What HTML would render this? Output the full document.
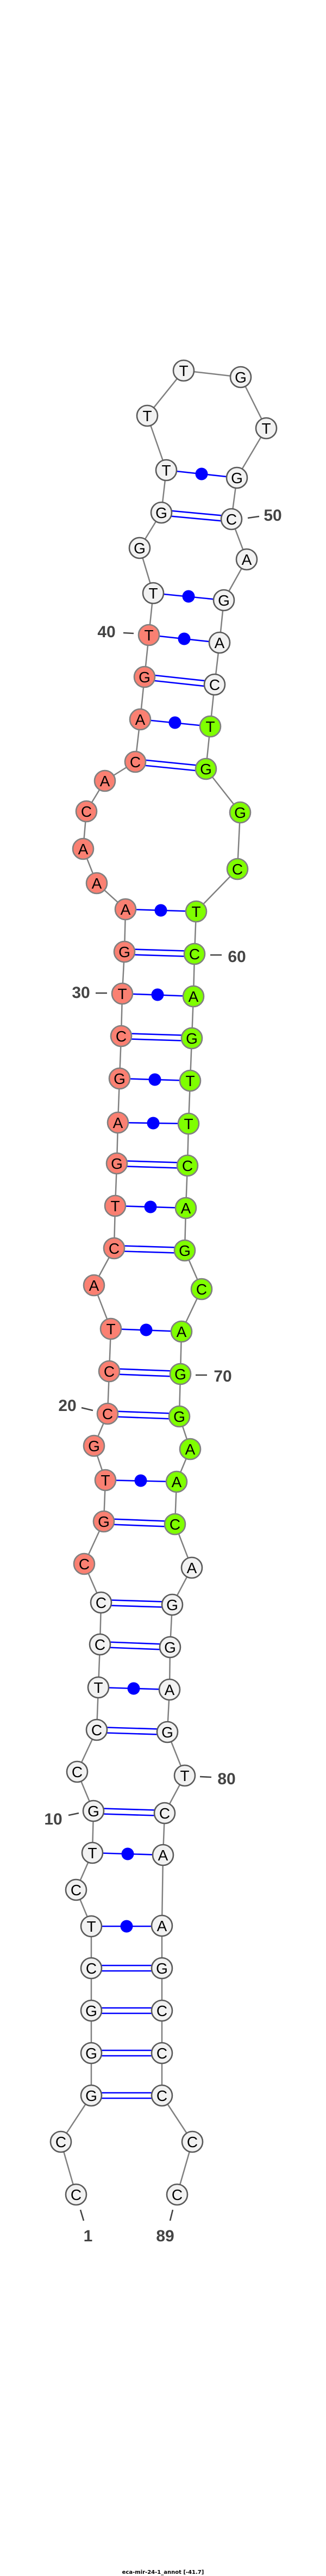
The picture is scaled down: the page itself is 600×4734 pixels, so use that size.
<!DOCTYPE html>
<html><head><meta charset="utf-8"><style>
html,body{margin:0;padding:0;background:#fff;}
svg{display:block;}
.n text{font-family:"Liberation Sans","DejaVu Sans",sans-serif;font-size:28px;text-anchor:middle;fill:#000;}
.w{fill:#f2f2f2;stroke:#5a5a5a;stroke-width:2.6;}
.r{fill:#fa8072;stroke:#808080;stroke-width:2.6;}
.g{fill:#7fff00;stroke:#808080;stroke-width:2.6;}
.bp{stroke:#0000ff;stroke-width:2.6;fill:none;}
.lab{font-family:"Liberation Sans","DejaVu Sans",sans-serif;font-size:30px;font-weight:bold;fill:#444;text-anchor:middle;}
.tk{stroke:#444;stroke-width:2.6;}
</style></head><body>
<svg width="600" height="4734" viewBox="0 0 600 4734" xmlns="http://www.w3.org/2000/svg">
<polyline fill="none" stroke="#808080" stroke-width="2.5" points="140,4033 112,3936 168,3851 168,3773 168,3695 168,3617 168,3540 140,3473 170,3405 172,3328 142,3256 178,3179 181,3101 184,3022 186,2945 155,2874 191,2796 194,2720 173,2657 198,2598 201,2520 204,2442 173,2362 210,2294 212,2216 215,2138 217,2063 220,1982 223,1904 225,1826 229,1749 231,1671 178,1623 153,1560 159,1491 193,1435 249,1400 258,1322 266,1244 274,1167 282,1090 257,1007 297,942 306,864 271,764 338,681 443,693 490,787 436,878 426,954 454,1028 412,1103 404,1181 395,1258 387,1335 379,1413 442,1493 437,1597 361,1675 358,1753 356,1831 353,1908 350,1986 347,2065 345,2142 342,2220 340,2298 371,2369 334,2447 332,2525 330,2603 350,2663 325,2723 322,2801 353,2881 317,2949 313,3027 312,3105 308,3183 340,3263 303,3332 300,3409 298,3539 298,3617 298,3695 298,3773 298,3851 354,3936 326,4033"/>
<g class="bp">
<!-- double pairs -->
<line x1="168" y1="3612" x2="298" y2="3612"/><line x1="168" y1="3622" x2="298" y2="3622"/>
<line x1="168" y1="3690" x2="298" y2="3690"/><line x1="168" y1="3700" x2="298" y2="3700"/>
<line x1="168" y1="3768" x2="298" y2="3768"/><line x1="168" y1="3778" x2="298" y2="3778"/>
<line x1="168" y1="3846" x2="298" y2="3846"/><line x1="168" y1="3856" x2="298" y2="3856"/>
<line x1="172" y1="3323" x2="303" y2="3327"/><line x1="172" y1="3333" x2="303" y2="3337"/>
<line x1="178" y1="3174" x2="308" y2="3178"/><line x1="178" y1="3184" x2="308" y2="3188"/>
<line x1="184" y1="3017" x2="313" y2="3022"/><line x1="184" y1="3027" x2="313" y2="3032"/>
<line x1="186" y1="2940" x2="317" y2="2944"/><line x1="186" y1="2950" x2="317" y2="2954"/>
<line x1="191" y1="2791" x2="322" y2="2796"/><line x1="191" y1="2801" x2="322" y2="2806"/>
<line x1="198" y1="2593" x2="330" y2="2598"/><line x1="198" y1="2603" x2="330" y2="2608"/>
<line x1="201" y1="2515" x2="332" y2="2520"/><line x1="201" y1="2525" x2="332" y2="2530"/>
<line x1="210" y1="2289" x2="340" y2="2293"/><line x1="210" y1="2299" x2="340" y2="2303"/>
<line x1="215" y1="2133" x2="345" y2="2137"/><line x1="215" y1="2143" x2="345" y2="2147"/>
<line x1="223" y1="1899" x2="353" y2="1903"/><line x1="223" y1="1909" x2="353" y2="1913"/>
<line x1="229" y1="1744" x2="358" y2="1748"/><line x1="229" y1="1754" x2="358" y2="1758"/>
<line x1="249" y1="1395" x2="379" y2="1408"/><line x1="249" y1="1405" x2="379" y2="1418"/>
<line x1="266" y1="1239" x2="395" y2="1253"/><line x1="266" y1="1249" x2="395" y2="1263"/>
<line x1="297" y1="937" x2="426" y2="949"/><line x1="297" y1="947" x2="426" y2="959"/>
<!-- single pairs -->
<line x1="168" y1="3540" x2="298" y2="3540"/>
<line x1="170" y1="3405" x2="300" y2="3409"/>
<line x1="181" y1="3101" x2="312" y2="3105"/>
<line x1="194" y1="2720" x2="325" y2="2723"/>
<line x1="204" y1="2442" x2="334" y2="2447"/>
<line x1="212" y1="2216" x2="342" y2="2220"/>
<line x1="217" y1="2063" x2="347" y2="2065"/>
<line x1="220" y1="1982" x2="350" y2="1986"/>
<line x1="225" y1="1826" x2="356" y2="1831"/>
<line x1="231" y1="1671" x2="361" y2="1675"/>
<line x1="258" y1="1322" x2="387" y2="1335"/>
<line x1="274" y1="1167" x2="404" y2="1181"/>
<line x1="282" y1="1090" x2="412" y2="1103"/>
<line x1="306" y1="864" x2="436" y2="878"/>
</g>
<g fill="#0000ff">
<circle cx="233" cy="3540" r="11.5"/>
<circle cx="235" cy="3407" r="11.5"/>
<circle cx="246" cy="3103" r="11.5"/>
<circle cx="259" cy="2721" r="11.5"/>
<circle cx="269" cy="2444" r="11.5"/>
<circle cx="277" cy="2218" r="11.5"/>
<circle cx="282" cy="2064" r="11.5"/>
<circle cx="285" cy="1984" r="11.5"/>
<circle cx="290" cy="1828" r="11.5"/>
<circle cx="296" cy="1673" r="11.5"/>
<circle cx="322" cy="1328" r="11.5"/>
<circle cx="339" cy="1174" r="11.5"/>
<circle cx="347" cy="1096" r="11.5"/>
<circle cx="371" cy="871" r="11.5"/>
</g>
<g class="n">
<circle class="w" cx="140" cy="4033" r="19"/><text x="140" y="4043">C</text>
<circle class="w" cx="112" cy="3936" r="19"/><text x="112" y="3946">C</text>
<circle class="w" cx="168" cy="3851" r="19"/><text x="168" y="3861">G</text>
<circle class="w" cx="168" cy="3773" r="19"/><text x="168" y="3783">G</text>
<circle class="w" cx="168" cy="3695" r="19"/><text x="168" y="3705">G</text>
<circle class="w" cx="168" cy="3617" r="19"/><text x="168" y="3627">C</text>
<circle class="w" cx="168" cy="3540" r="19"/><text x="168" y="3550">T</text>
<circle class="w" cx="140" cy="3473" r="19"/><text x="140" y="3483">C</text>
<circle class="w" cx="170" cy="3405" r="19"/><text x="170" y="3415">T</text>
<circle class="w" cx="172" cy="3328" r="19"/><text x="172" y="3338">G</text>
<circle class="w" cx="142" cy="3256" r="19"/><text x="142" y="3266">C</text>
<circle class="w" cx="178" cy="3179" r="19"/><text x="178" y="3189">C</text>
<circle class="w" cx="181" cy="3101" r="19"/><text x="181" y="3111">T</text>
<circle class="w" cx="184" cy="3022" r="19"/><text x="184" y="3032">C</text>
<circle class="w" cx="186" cy="2945" r="19"/><text x="186" y="2955">C</text>
<circle class="r" cx="155" cy="2874" r="19"/><text x="155" y="2884">C</text>
<circle class="r" cx="191" cy="2796" r="19"/><text x="191" y="2806">G</text>
<circle class="r" cx="194" cy="2720" r="19"/><text x="194" y="2730">T</text>
<circle class="r" cx="173" cy="2657" r="19"/><text x="173" y="2667">G</text>
<circle class="r" cx="198" cy="2598" r="19"/><text x="198" y="2608">C</text>
<circle class="r" cx="201" cy="2520" r="19"/><text x="201" y="2530">C</text>
<circle class="r" cx="204" cy="2442" r="19"/><text x="204" y="2452">T</text>
<circle class="r" cx="173" cy="2362" r="19"/><text x="173" y="2372">A</text>
<circle class="r" cx="210" cy="2294" r="19"/><text x="210" y="2304">C</text>
<circle class="r" cx="212" cy="2216" r="19"/><text x="212" y="2226">T</text>
<circle class="r" cx="215" cy="2138" r="19"/><text x="215" y="2148">G</text>
<circle class="r" cx="217" cy="2063" r="19"/><text x="217" y="2073">A</text>
<circle class="r" cx="220" cy="1982" r="19"/><text x="220" y="1992">G</text>
<circle class="r" cx="223" cy="1904" r="19"/><text x="223" y="1914">C</text>
<circle class="r" cx="225" cy="1826" r="19"/><text x="225" y="1836">T</text>
<circle class="r" cx="229" cy="1749" r="19"/><text x="229" y="1759">G</text>
<circle class="r" cx="231" cy="1671" r="19"/><text x="231" y="1681">A</text>
<circle class="r" cx="178" cy="1623" r="19"/><text x="178" y="1633">A</text>
<circle class="r" cx="153" cy="1560" r="19"/><text x="153" y="1570">A</text>
<circle class="r" cx="159" cy="1491" r="19"/><text x="159" y="1501">C</text>
<circle class="r" cx="193" cy="1435" r="19"/><text x="193" y="1445">A</text>
<circle class="r" cx="249" cy="1400" r="19"/><text x="249" y="1410">C</text>
<circle class="r" cx="258" cy="1322" r="19"/><text x="258" y="1332">A</text>
<circle class="r" cx="266" cy="1244" r="19"/><text x="266" y="1254">G</text>
<circle class="r" cx="274" cy="1167" r="19"/><text x="274" y="1177">T</text>
<circle class="w" cx="282" cy="1090" r="19"/><text x="282" y="1100">T</text>
<circle class="w" cx="257" cy="1007" r="19"/><text x="257" y="1017">G</text>
<circle class="w" cx="297" cy="942" r="19"/><text x="297" y="952">G</text>
<circle class="w" cx="306" cy="864" r="19"/><text x="306" y="874">T</text>
<circle class="w" cx="271" cy="764" r="19"/><text x="271" y="774">T</text>
<circle class="w" cx="338" cy="681" r="19"/><text x="338" y="691">T</text>
<circle class="w" cx="443" cy="693" r="19"/><text x="443" y="703">G</text>
<circle class="w" cx="490" cy="787" r="19"/><text x="490" y="797">T</text>
<circle class="w" cx="436" cy="878" r="19"/><text x="436" y="888">G</text>
<circle class="w" cx="426" cy="954" r="19"/><text x="426" y="964">C</text>
<circle class="w" cx="454" cy="1028" r="19"/><text x="454" y="1038">A</text>
<circle class="w" cx="412" cy="1103" r="19"/><text x="412" y="1113">G</text>
<circle class="w" cx="404" cy="1181" r="19"/><text x="404" y="1191">A</text>
<circle class="w" cx="395" cy="1258" r="19"/><text x="395" y="1268">C</text>
<circle class="g" cx="387" cy="1335" r="19"/><text x="387" y="1345">T</text>
<circle class="g" cx="379" cy="1413" r="19"/><text x="379" y="1423">G</text>
<circle class="g" cx="442" cy="1493" r="19"/><text x="442" y="1503">G</text>
<circle class="g" cx="437" cy="1597" r="19"/><text x="437" y="1607">C</text>
<circle class="g" cx="361" cy="1675" r="19"/><text x="361" y="1685">T</text>
<circle class="g" cx="358" cy="1753" r="19"/><text x="358" y="1763">C</text>
<circle class="g" cx="356" cy="1831" r="19"/><text x="356" y="1841">A</text>
<circle class="g" cx="353" cy="1908" r="19"/><text x="353" y="1918">G</text>
<circle class="g" cx="350" cy="1986" r="19"/><text x="350" y="1996">T</text>
<circle class="g" cx="347" cy="2065" r="19"/><text x="347" y="2075">T</text>
<circle class="g" cx="345" cy="2142" r="19"/><text x="345" y="2152">C</text>
<circle class="g" cx="342" cy="2220" r="19"/><text x="342" y="2230">A</text>
<circle class="g" cx="340" cy="2298" r="19"/><text x="340" y="2308">G</text>
<circle class="g" cx="371" cy="2369" r="19"/><text x="371" y="2379">C</text>
<circle class="g" cx="334" cy="2447" r="19"/><text x="334" y="2457">A</text>
<circle class="g" cx="332" cy="2525" r="19"/><text x="332" y="2535">G</text>
<circle class="g" cx="330" cy="2603" r="19"/><text x="330" y="2613">G</text>
<circle class="g" cx="350" cy="2663" r="19"/><text x="350" y="2673">A</text>
<circle class="g" cx="325" cy="2723" r="19"/><text x="325" y="2733">A</text>
<circle class="g" cx="322" cy="2801" r="19"/><text x="322" y="2811">C</text>
<circle class="w" cx="353" cy="2881" r="19"/><text x="353" y="2891">A</text>
<circle class="w" cx="317" cy="2949" r="19"/><text x="317" y="2959">G</text>
<circle class="w" cx="313" cy="3027" r="19"/><text x="313" y="3037">G</text>
<circle class="w" cx="312" cy="3105" r="19"/><text x="312" y="3115">A</text>
<circle class="w" cx="308" cy="3183" r="19"/><text x="308" y="3193">G</text>
<circle class="w" cx="340" cy="3263" r="19"/><text x="340" y="3273">T</text>
<circle class="w" cx="303" cy="3332" r="19"/><text x="303" y="3342">C</text>
<circle class="w" cx="300" cy="3409" r="19"/><text x="300" y="3419">A</text>
<circle class="w" cx="298" cy="3539" r="19"/><text x="298" y="3549">A</text>
<circle class="w" cx="298" cy="3617" r="19"/><text x="298" y="3627">G</text>
<circle class="w" cx="298" cy="3695" r="19"/><text x="298" y="3705">C</text>
<circle class="w" cx="298" cy="3773" r="19"/><text x="298" y="3783">C</text>
<circle class="w" cx="298" cy="3851" r="19"/><text x="298" y="3861">C</text>
<circle class="w" cx="354" cy="3936" r="19"/><text x="354" y="3946">C</text>
<circle class="w" cx="326" cy="4033" r="19"/><text x="326" y="4043">C</text>
</g>
<g class="tk">
<line x1="456" y1="952" x2="477" y2="949"/>
<line x1="227" y1="1163" x2="246" y2="1164"/>
<line x1="387" y1="1755" x2="408" y2="1755"/>
<line x1="176" y1="1825" x2="197" y2="1825"/>
<line x1="360" y1="2527" x2="381" y2="2527"/>
<line x1="150" y1="2587" x2="171" y2="2592"/>
<line x1="368" y1="3265" x2="389" y2="3266"/>
<line x1="126" y1="3336" x2="145" y2="3332"/>
<line x1="148" y1="4061" x2="154" y2="4081"/>
<line x1="318" y1="4061" x2="313" y2="4081"/>
</g>
<g class="lab">
<text x="502" y="957">50</text>
<text x="196" y="1171">40</text>
<text x="436" y="1768">60</text>
<text x="149" y="1834">30</text>
<text x="410" y="2539">70</text>
<text x="124" y="2593">20</text>
<text x="417" y="3279">80</text>
<text x="98" y="3353">10</text>
<text x="162" y="4119">1</text>
<text x="304" y="4119">89</text>
</g>
<text x="300" y="4730" font-family="'DejaVu Sans','Liberation Sans',sans-serif" font-size="10" font-weight="bold" text-anchor="middle" fill="#000">eca-mir-24-1_annot [-41.7]</text>
</svg>
</body></html>
